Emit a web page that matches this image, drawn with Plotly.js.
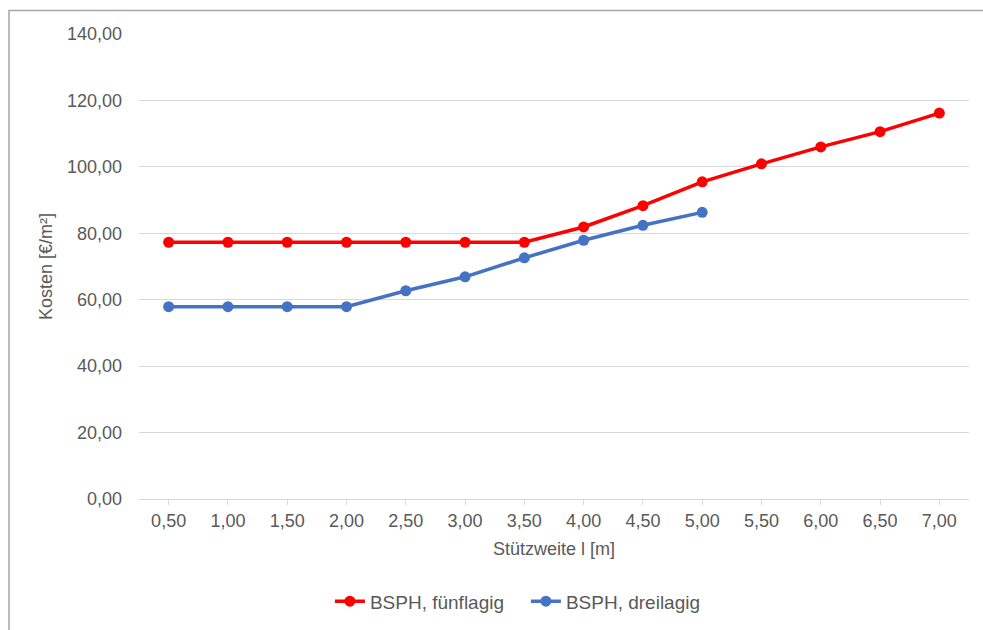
<!DOCTYPE html>
<html>
<head>
<meta charset="utf-8">
<script src="https://cdn.plot.ly/plotly-3.0.1.min.js"></script>
<style>html,body{margin:0;padding:0;background:#fff;}#chart{width:983px;height:630px;}</style>
</head>
<body>
<div id="chart"></div>
<script>
const spans = [0.5, 1.0, 1.5, 2.0, 2.5, 3.0, 3.5, 4.0, 4.5, 5.0, 5.5, 6.0, 6.5, 7.0];
const fuenflagig = [77.3, 77.3, 77.3, 77.3, 77.3, 77.3, 77.3, 81.9, 88.3, 95.5, 100.9, 106.0, 110.6, 116.2];
const spansDrei = [0.5, 1.0, 1.5, 2.0, 2.5, 3.0, 3.5, 4.0, 4.5, 5.0];
const dreilagig = [57.9, 57.9, 57.9, 57.9, 62.7, 66.9, 72.6, 77.9, 82.4, 86.3];
const yTicks = [0, 20, 40, 60, 80, 100, 120, 140];
const seriesNames = ["BSPH, fünflagig", "BSPH, dreilagig"];

const font = {family: "Liberation Sans, Arial, sans-serif", size: 18, color: "#595959"};
const legendFont = {family: "Liberation Sans, Arial, sans-serif", size: 19, color: "#595959"};

const traces = [
  {x: spans, y: fuenflagig, name: seriesNames[0], type: "scatter", mode: "lines+markers",
   line: {color: "#ff0000", width: 3.5}, marker: {color: "#ff0000", size: 11}},
  {x: spansDrei, y: dreilagig, name: seriesNames[1], type: "scatter", mode: "lines+markers",
   line: {color: "#4472c4", width: 3.5}, marker: {color: "#4472c4", size: 11}}
];

const layout = {
  width: 983, height: 630,
  margin: {l: 139, r: 14, t: 34, b: 131, autoexpand: false},
  paper_bgcolor: "#ffffff", plot_bgcolor: "#ffffff",
  separators: ",.",
  font: font,
  showlegend: true,
  legend: {orientation: "h", x: 0.23, xanchor: "left", y: -0.22, yanchor: "middle",
           font: legendFont, bgcolor: "rgba(0,0,0,0)", traceorder: "normal",
           entrywidth: 151, entrywidthmode: "pixels"},
  xaxis: {
    range: [0.25, 7.25], tickvals: spans, tickformat: ".2f",
    showgrid: false, zeroline: false,
    showline: true, linecolor: "#d9d9d9", linewidth: 1,
    ticks: "outside", ticklen: 5, tickcolor: "#d9d9d9",
    tickfont: font,
    title: {text: "Stützweite l [m]", font: font, standoff: 12},
    fixedrange: true
  },
  yaxis: {
    range: [0, 140], tickvals: yTicks, tickformat: ".2f",
    showgrid: true, gridcolor: "#d9d9d9", gridwidth: 1,
    zeroline: false, showline: false, ticks: "",
    ticklabelstandoff: 16,
    tickfont: font,
    title: {text: "Kosten [€/m²]", font: font, standoff: 9},
    fixedrange: true
  },
  shapes: [
    {type: "path", xref: "paper", yref: "paper",
     path: "M -0.1566,-0.4 L -0.1566,1.0505 L 1.08,1.0505",
     line: {color: "#a6a6a6", width: 1.5}}
  ]
};

Plotly.newPlot("chart", traces, layout, {displayModeBar: false, staticPlot: true});
</script>
</body>
</html>
